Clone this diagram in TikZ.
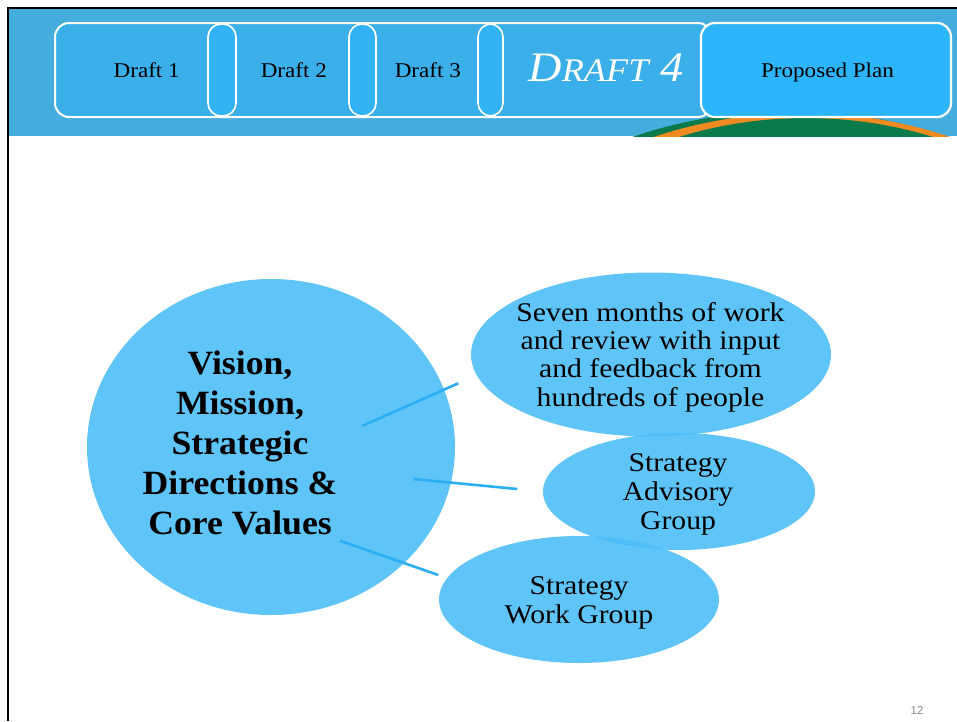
\documentclass[tikz,border=0pt]{standalone}
\usepackage{fontspec}
\setmainfont{Liberation Serif}
\setsansfont{Liberation Sans}
\newfontfamily\widefont{Liberation Serif}[FakeStretch=1.1]
\newfontfamily\midfont{Liberation Serif}[FakeStretch=1.05]
\usetikzlibrary{shapes.geometric}
\definecolor{band}{HTML}{44ADDE}
\definecolor{tabfill}{HTML}{3AAFEA}
\definecolor{pillfill}{HTML}{31B3F6}
\definecolor{planfill}{HTML}{2DB5FC}
\definecolor{bubblefill}{HTML}{4EBEF8}
\definecolor{connblue}{HTML}{2CAEF5}
\definecolor{dgreen}{HTML}{0B7A4B}
\definecolor{dorange}{HTML}{F28A22}
\definecolor{pagegray}{HTML}{8A8A8A}
\tikzset{
  tabbox/.style={fill=tabfill, draw=white, line width=2pt, rounded corners=14pt},
  pillbox/.style={fill=pillfill, draw=white, line width=1.6pt, rounded corners=13pt},
  planbox/.style={fill=planfill, draw=white, line width=2.2pt, rounded corners=14pt},
  tablabel/.style={anchor=base, font=\widefont\fontsize{21}{21}\selectfont, text=black, inner sep=0pt},
  bubble/.style={ellipse, fill=bubblefill, fill opacity=0.9, inner sep=0pt},
  bubbletext/.style={align=center, inner sep=0pt, text=black, font=\widefont\fontsize{27}{29}\selectfont},
  conn/.style={draw=connblue, line width=2.6pt},
}
\begin{document}
\begin{tikzpicture}[x=1pt,y=-1pt]
\useasboundingbox (0,0) rectangle (957,721);
\fill[white] (0,0) rectangle (957,721);
% header band
\fill[band] (9,9) rectangle (957,136);
\begin{scope}
  \clip (9,9) rectangle (957,136);
  \fill[dgreen] (790,600) circle (489);
  \fill[dorange] (802,581) circle (468);
  \fill[dgreen] (806,550) circle (432);
\end{scope}
% frame
\draw[black, line width=2.6pt] (8,721) -- (8,8) -- (957,8);
% tabs
\draw[tabbox] (55,23) rectangle (712,117);
\draw[pillbox] (208,24) rectangle (236,116);
\draw[pillbox] (349,24) rectangle (376,116);
\draw[pillbox] (478,24) rectangle (503,116);
\draw[planbox] (701,23) rectangle (951,117);
\node[tablabel] (t1) at (146.7,77) {Draft 1};
\node[tablabel] (t2) at (293.8,77) {Draft 2};
\node[tablabel] (t3) at (427.8,77) {Draft 3};
\node[tablabel, text=white] (t4) at (605.8,81.7) {\itshape\fontsize{42}{42}\selectfont D{\fontsize{33}{33}\selectfont RAFT} 4};
\node[tablabel] (tp) at (827.5,77) {Proposed Plan};
% big circle
\node[bubble, minimum width=368pt, minimum height=336pt] (core) at (271,447) {};
\node[align=center, inner sep=0pt, font=\midfont\fontsize{34}{40}\selectfont\bfseries] (coretext) at (240,443) {Vision,\\Mission,\\Strategic\\Directions \&\\Core Values};
% bubbles
\node[bubble, minimum width=360pt, minimum height=164pt] (seven) at (651,354.5) {};
\node[bubbletext, font=\widefont\fontsize{27}{28.4}\selectfont] (seventext) at (650.5,357) {Seven months of work\\and review with input\\and feedback from\\hundreds of people};
\node[bubble, minimum width=272pt, minimum height=117pt] (sag) at (679,491.5) {};
\node[bubbletext] (sagtext) at (678,494) {Strategy\\Advisory\\Group};
\node[bubble, minimum width=280pt, minimum height=127pt] (swg) at (579,599.5) {};
\node[bubbletext] (swgtext) at (579,602.5) {Strategy\\Work Group};
% connectors
\coordinate (c1a) at (362.7,425.7);
\coordinate (c1b) at (458.3,383.3);
\coordinate (c2a) at (413.3,479);
\coordinate (c2b) at (517.3,489);
\coordinate (c3a) at (340,540.7);
\coordinate (c3b) at (438.3,575);
\draw[conn] (c1a) -- (c1b);
\draw[conn] (c2a) -- (c2b);
\draw[conn] (c3a) -- (c3b);
% page number
\node[anchor=base, inner sep=0pt, text=pagegray, font=\sffamily\fontsize{11.5}{11.5}\selectfont] (pnum) at (917,714) {12};
\end{tikzpicture}
\end{document}
